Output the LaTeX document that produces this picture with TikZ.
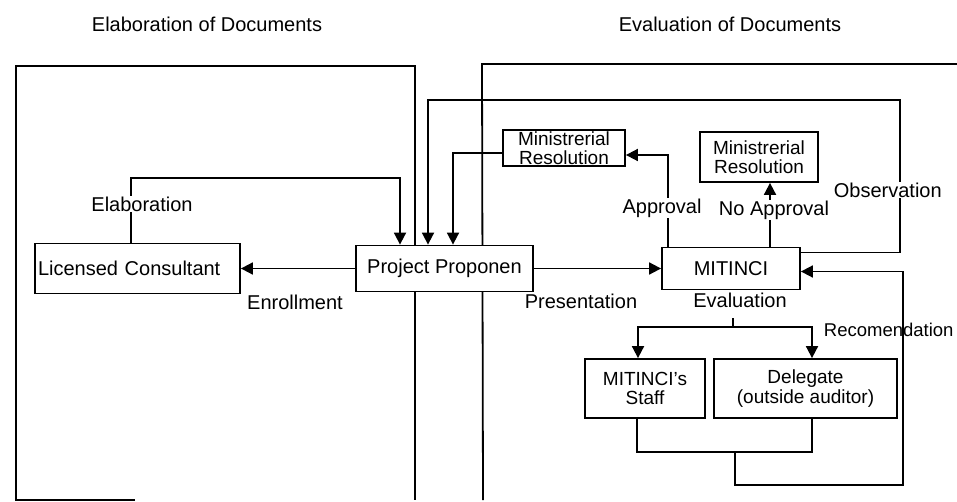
\documentclass[tikz,border=0pt]{standalone}
\usepackage{fontspec}
\setmainfont{Liberation Sans}
\usetikzlibrary{arrows.meta}
\tikzset{
  box/.style={draw,line width=1.8pt,fill=white,inner sep=0pt,align=center,font=\fontsize{19}{19.5}\selectfont},
  lbl/.style={inner sep=1pt,font=\fontsize{20}{24}\selectfont},
  frame/.style={line width=1.8pt},
}
\begin{document}
\begin{tikzpicture}[x=1pt,y=-1pt,line width=1.8pt,>={Triangle[length=12pt,width=12pt]}]
        \useasboundingbox(0,0)rectangle(957,502);
        % frames
        \draw[frame](135,500)--(16,500)--(16,66)--(415,66)--(415,500);
        \draw[frame](957,64)--(482,64)--(483,500);
        \node[lbl](t1)at(207,24){Elaboration of Documents};
        \node[lbl](t2)at(730,24){Evaluation of Documents};
        % boxes
        \node[box,font=\fontsize{20}{24}\selectfont,minimum width=205pt,minimum height=50pt,inner xsep=3pt,text width=199pt,align=left](lc)at(137.5,268.5){Licensed Consultant};
        \node[box,font=\fontsize{20}{24}\selectfont,minimum width=177pt,minimum height=46pt](pp)at(444.5,268.5){Project Proponen};
        \node[box,font=\fontsize{20}{24}\selectfont,minimum width=138pt,minimum height=42pt](mitinci)at(731,268.5){MITINCI};
        \node[box,minimum width=122pt,minimum height=36pt](mr1)at(564,148){Ministrerial\\Resolution};
        \node[box,minimum width=118pt,minimum height=50pt](mr2)at(759,157){Ministrerial\\Resolution};
        \node[box,minimum width=120pt,minimum height=59pt](staff)at(645,388.5){MITINCI's\\Staff};
        \node[box,minimum width=183pt,minimum height=59pt](delegate)at(805.5,388.5){Delegate\\(outside auditor)};
        % elaboration
        \coordinate(el)at(131,178);
        \draw[->]([xshift=-6.5pt]lc.north)--(el)-|([xshift=-44.5pt]pp.north);
        \node[lbl,fill=white](elab)at(142,204){Elaboration};
        % enrollment, presentation
        \draw[->](pp.west)--(lc.east);
        \node[lbl](enr)at(295,302){Enrollment};
        \draw[->](pp.east)--(mitinci.west);
        \node[lbl](pres)at(581,301){Presentation};
        % approval
        \draw[->]([xshift=-63pt]mitinci.north)|-([yshift=-7pt]mr1.east);
        \node[lbl,fill=white](appr)at(662,208){Approval};
        \draw[->]([xshift=39pt]mitinci.north)--([xshift=39pt]mitinci.north|-mr2.south);
        \node[lbl,fill=white](noappr)at(774,210){No Approval};
        \draw[->]([yshift=-5pt]mr1.west)-|([xshift=8.5pt]pp.north);
        % observation
        \coordinate(obs)at(900,100);
        \draw[->]([yshift=16pt]mitinci.east)-|(obs)-|([xshift=-16.5pt]pp.north);
        \node[lbl,fill=white,anchor=west](obsl)at(832,190){Observation};
        % evaluation
        \coordinate(split)at(733,327);
        \node[lbl](eval)at(740,300){Evaluation};
        \draw(split)--++(0,-9);
        \draw[->](split)-|([xshift=-7pt]staff.north);
        \draw[->](split)-|([xshift=6.5pt]delegate.north);
        % recomendation
        \coordinate(rj)at(735,452);
        \coordinate(rec)at(903,485);
        \draw([xshift=-8pt]staff.south)|-(rj)-|([xshift=6.5pt]delegate.south);
        \draw[->](rj)|-(rec)|-([yshift=-3pt]mitinci.east);
        \node[lbl,anchor=west,font=\fontsize{18.5}{24}\selectfont](recl)at(822,330){Recomendation};
\end{tikzpicture}
\end{document}
